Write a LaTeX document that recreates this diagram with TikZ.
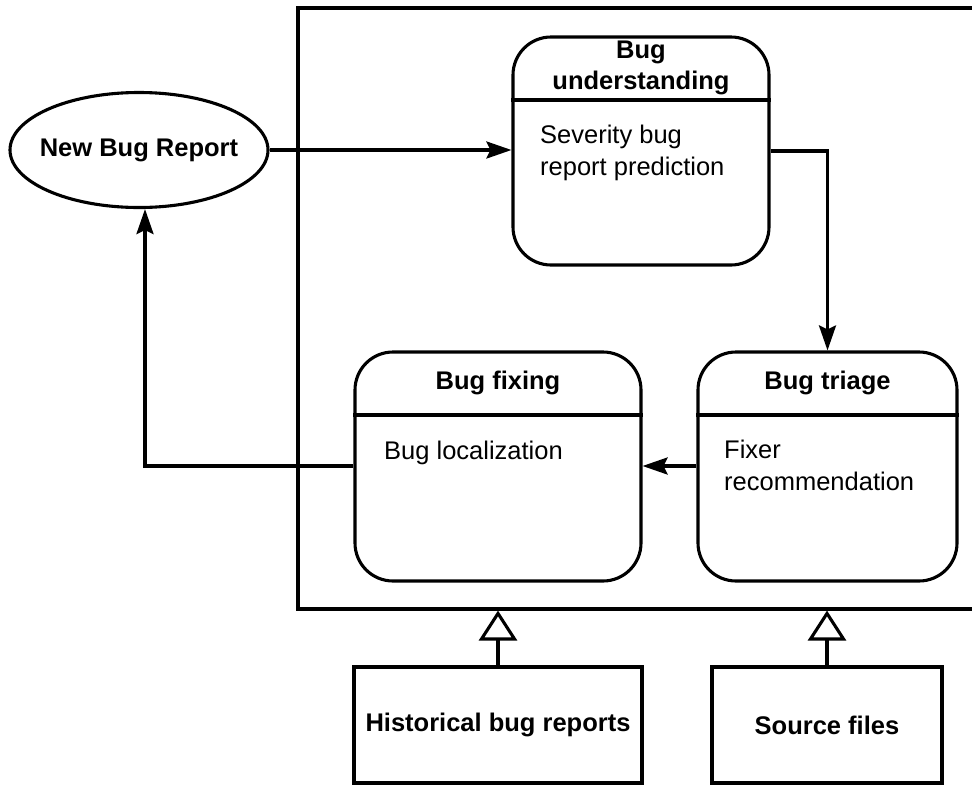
\documentclass[tikz,border=0pt]{standalone}
\usepackage{fontspec}
\setmainfont{Liberation Sans}
\usetikzlibrary{arrows.meta,shapes.geometric}

\tikzset{
  lw/.style={line width=3.1pt},
  rbox/.style={draw, lw, rounded corners=38pt, inner sep=0pt},
  sqbox/.style={draw, lw, inner sep=0pt},
  headtxt/.style={font=\bfseries\fontsize{25.5}{31}\selectfont, inner sep=0pt, align=center},
  bodytxt/.style={font=\fontsize{25.5}{31.5}\selectfont, inner sep=0pt, align=left, anchor=base west},
  arr/.style={lw, -{Stealth[length=25pt,width=17pt,inset=4pt]}},
  feed/.style={lw, -{Triangle[open,length=30pt,width=38pt]}},
}

\begin{document}
\begin{tikzpicture}[x=1pt,y=-1pt]
\useasboundingbox (0,0) rectangle (972,785);
\clip (0,0) rectangle (972,785);

% system frame (runs off the right edge)
\node[sqbox, minimum width=702pt, minimum height=601pt] (sys) at (649,308.5) {};

% process boxes
\node[rbox, minimum width=256pt, minimum height=228pt] (und) at (641,151) {};
\node[rbox, minimum width=286pt, minimum height=229pt] (fix) at (498,466.5) {};
\node[rbox, minimum width=259pt, minimum height=229pt] (tri) at (827.5,466.5) {};

% header separators
\draw[lw] (und.west |- 0,100) -- (und.east |- 0,100);
\draw[lw] (fix.west |- 0,415) -- (fix.east |- 0,415);
\draw[lw] (tri.west |- 0,415) -- (tri.east |- 0,415);

% headers (base anchor = baseline of the last line)
\node[headtxt, anchor=base] (undh) at (641,89) {Bug\\understanding};
\node[headtxt, anchor=base] (fixh) at (498,389) {Bug fixing};
\node[headtxt, anchor=base] (trih) at (827.5,389) {Bug triage};

% body texts
\node[bodytxt] (undb) at (540,175) {Severity bug\\report prediction};
\node[bodytxt] (fixb) at (384,459) {Bug localization};
\node[bodytxt] (trib) at (724,490) {Fixer\\recommendation};

% input report
\node[draw, lw, ellipse, minimum width=258pt, minimum height=115pt, inner sep=0pt,
      font=\bfseries\fontsize{25.5}{31}\selectfont] (nbr) at (139,150) {\makebox[120pt]{New Bug Report}};

% data sources
\node[sqbox, minimum width=288pt, minimum height=116pt,
      font=\bfseries\fontsize{25.5}{31}\selectfont] (hist) at (498,725) {Historical bug reports};
\node[sqbox, minimum width=230pt, minimum height=116pt,
      font=\bfseries\fontsize{25.5}{31}\selectfont] (src) at (827,725) {Source files};

% flow
\coordinate (row) at (0,466);
\coordinate (turn) at (145,466);
\draw[arr] (nbr.east) -- (und.west |- nbr.east);
\draw[arr] (und.east) -| (tri.north);
\draw[arr] (tri.west |- row) -- (fix.east |- row);
\draw[arr] (fix.west |- row) -- (turn) -- (turn |- nbr.south);

% feeds into the system
\draw[feed] (hist.north) -- (hist.north |- sys.south);
\draw[feed] (src.north) -- (src.north |- sys.south);
\end{tikzpicture}
\end{document}
